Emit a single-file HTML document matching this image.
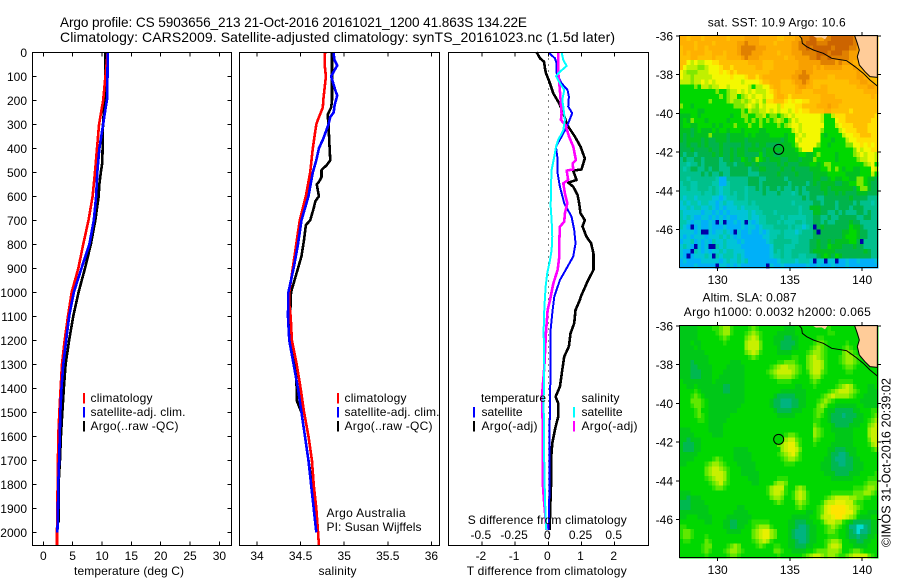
<!DOCTYPE html>
<html lang="en">
<head>
<meta charset="utf-8">
<title>Argo profile CS 5903656_213</title>
<style>
html,body{margin:0;padding:0;background:#fff;}
#chart{display:block;width:900px;height:580px;}
text{font-family:"Liberation Sans",Arial,sans-serif;fill:#000;}
</style>
</head>
<body>
<svg id="chart" xmlns="http://www.w3.org/2000/svg" width="900" height="580" viewBox="0 0 900 580"></svg>
<script>
// ---- profile data: temperature ----
const tempTicks = [0,5,10,15,20,25,30];
const depthTicks = [0,100,200,300,400,500,600,700,800,900,1000,1100,1200,1300,1400,1500,1600,1700,1800,1900,2000];
const tempClimDepth = [0,200,300,400,500,600,700,800,900,1000,1100,1200,1300,1400,1500,1600,1700,1800,1900,2000,2054];
const tempClim = [10.97,10.2,9.5,9.15,8.8,8.4,7.7,6.8,5.97,4.83,4.2,3.64,3.18,2.95,2.73,2.55,2.5,2.44,2.4,2.33,2.33];
const tempSatDepth = [0,190,250,300,400,500,600,700,800,900,1000,1100,1200,1300,1400,1500,1600,1700,1800,1900,2000];
const tempSat = [10.97,10.9,10.5,10.2,9.55,9.2,9,8.6,7.85,6.5,5.2,4.4,3.9,3.4,3.1,2.9,2.8,2.7,2.55,2.5,2.4];
const tempArgoDepth = [0,100,200,300,400,460,500,550,600,700,800,900,1000,1100,1200,1300,1400,1500,1600,1700,1800,1960];
const tempArgo = [10.6,10.57,10.45,10.17,10.1,10.05,9.8,9.55,9.43,8.86,8.1,7.1,6,5.1,4.4,3.8,3.5,3.24,3,2.84,2.6,2.6];

// ---- profile data: salinity ----
const salTicks = [34,34.5,35,35.5,36];
const salClimDepth = [0,50,100,200,230,280,300,400,500,600,700,800,900,1000,1050,1100,1200,1300,1400,1500,1600,1700,1800,1900,2000,2054];
const salClim = [34.78,34.775,34.79,34.76,34.755,34.70,34.68,34.64,34.61,34.56,34.49,34.45,34.41,34.37,34.37,34.386,34.40,34.455,34.5,34.54,34.59,34.63,34.65,34.68,34.70,34.71];
const salSatDepth = [0,30,55,100,130,160,180,220,250,270,300,360,400,450,500,600,700,800,900,1000,1100,1200,1300,1400,1500,1600,1700,1800,1900,2000];
const salSat = [34.88,34.885,34.92,34.85,34.875,34.9,34.92,34.89,34.88,34.84,34.82,34.76,34.71,34.68,34.64,34.59,34.51,34.47,34.42,34.36,34.355,34.37,34.42,34.47,34.51,34.55,34.59,34.62,34.65,34.68];
const salArgoDepth = [0,100,200,230,260,300,380,450,470,490,520,540,550,600,620,650,700,720,780,850,900,950,1000,1100,1200,1300,1400,1450,1500,1600,1700,1800,1850];
const salArgo = [34.86,34.86,34.86,34.85,34.81,34.82,34.83,34.84,34.80,34.74,34.74,34.71,34.685,34.71,34.67,34.65,34.61,34.56,34.54,34.51,34.47,34.43,34.39,34.38,34.39,34.44,34.455,34.455,34.51,34.55,34.59,34.63,34.64];

// ---- profile data: differences from climatology ----
const diffTTicks = [-2,-1,0,1,2];
const diffSTicks = [-0.5,-0.25,0,0.25,0.5];
const diffSTickLabels = ["-0.5","-0.25","0","0.25","0.5"];
const dTArgoDepth = [0,25,39,67,87,129,171,206,240,303,351,393,442,456,488,493,532,543,560,594,629,671,699,726,768,796,838,907,949,1018,1032,1074,1129,1171,1226,1268,1324,1393,1435,1463,1518,1560,1629,1699,1810,1893,1990];
const dTArgo = [-0.35,-0.25,-0.13,-0.10,-0.07,0.05,0.15,0.30,0.42,0.57,0.80,0.97,1.10,1.07,1.00,0.75,0.85,0.60,0.75,0.88,0.93,0.97,1.10,1.03,1.15,1.29,1.36,1.36,1.20,0.98,0.95,0.82,0.78,0.67,0.62,0.48,0.42,0.35,0.22,0.30,0.30,0.22,0.12,0.08,0.08,0.06,0.04];
const dTSatDepth = [0,25,46,87,129,157,185,226,254,275,310,351,393,435,504,560,629,685,740,796,851,893,949,1018,1087,1157,1310,1449,1588,1700,1850,1990];
const dTSat = [0,0.20,0.25,0.25,0.40,0.58,0.62,0.60,0.72,0.66,0.56,0.40,0.23,0.27,0.28,0.35,0.48,0.70,0.78,0.82,0.75,0.58,0.35,0.18,0.12,0.07,0.07,0.05,0.04,0.03,0.03,0.01];
const dSArgoDepth = [0,87,129,199,254,282,303,351,393,449,463,488,493,532,546,588,629,671,706,726,782,851,907,963,1018,1032,1074,1171,1310,1435,1588,1782,1865,1990];
const dSArgo = [0.075,0.075,0.083,0.093,0.10,0.095,0.13,0.156,0.188,0.208,0.183,0.188,0.138,0.15,0.113,0.125,0.143,0.125,0.12,0.088,0.083,0.083,0.07,0.038,0.018,0.013,-0.005,-0.018,-0.03,-0.048,-0.04,-0.043,-0.033,-0.013];
const dSSatDepth = [0,32,57,81,99,129,157,199,226,282,324,365,393,435,490,560,643,699,768,824,865,921,976,1067,1157,1240,1310,1449,1588,1727,1865,1990];
const dSSat = [0.10,0.113,0.138,0.088,0.058,0.088,0.12,0.105,0.113,0.125,0.113,0.075,0.058,0.045,0.025,0.02,0.018,0.025,0.03,0.025,0.013,-0.008,-0.02,-0.03,-0.035,-0.033,-0.03,-0.035,-0.033,-0.03,-0.025,-0.015];

// ---- map data ----
const lonTicks = [130,135,140];
const latTicks = [-36,-38,-40,-42,-44,-46];
const sstPalette = {a:"#0000a8",b:"#00b0f8",c:"#00c4d8",d:"#00c8ac",e:"#00c08c",f:"#00b44c",g:"#00c020",h:"#00d800",i:"#80e800",j:"#c0f000",k:"#f4f800",l:"#ffe000",m:"#ffc000",n:"#ffb000",o:"#f8a000",p:"#e08000",q:"#cc6400"};
const sstRows = [
"nnmnn nmnnn nnnmn nnnoo oonnn nnmmn nnoop pqqoo ppqqq qqqpp nnmmm",
"nnnnm nnnnm nnnnn noopo oonnn nmnnn noopp qqqpp pqqqq qqqpp nnmmm",
"mnnnm nnmnn nnnnn noppp pooon nnnnn noopp qpqqq qqpqq qqppo nnmmm",
"mnmnn nnmmn nnmnn noppp ooonn nnmnn nooop pppqq qpqqq ppooo nnmmm",
"mmmnn mmmmn mmmnn nnopo oonnn nnnnm nnooo oppqp pqppp ppooo nmmmm",
"mmkjk jjkkl lmmmm mmmmn nnnmm mnnnn nnnoo oooop pppop ooonn nmmmm",
"mkjjj iijkk klmml mmmmm mnnmm mnnnn nnnoo oonon ooooo nnnon nmmmm",
"kjiii jjjkk klklm lmmmm mmmmm nnnnn nnoop oonnn nnnnn nnnno nnmmm",
"kjjij jjjjk kkkkl kkklm mlmnn nnnnn noopp pnnnn nmmnn nnnno onmmm",
"jjjij jkjkj kkkkk kkjkk kklmm nnnmm mnoop onmmm mmmmm mmnnn oonnm",
"hhhhi hjjij jkkjk kkkkj hjjkk mnnmm mmnoo nnmmn nmmmm mmmmn nnoon",
"hhhhh hhhhh ihhij jkjkj kjjjk lmnmm mmnnm mmnnn nmmmm mmmmm mnnnn",
"hhhhh hhhhh hihij jhijk jkkjk kmnnm lmmmm mmmmn nnnmm mmmmm mmmnm",
"hhhhh hhhih hhhij iijij kjkil lmmml klkkl lmmmn nnnnn mmmmm mmmmm",
"ihhgh hhhhh hhhhh iiijk jikjk kkjlk kkllm mmmnn nonnm mmmmm mmmmm",
"hhhhh gghhh hhhhh hhihj iijjk jkjkk jklkl lmmmm nnmmm mmlmm mmmmm",
"ggghh ghhhh hhhhg hhiih hiijh iihij kjkkk kkkkj hhjll lmmmm mmmml",
"ghgih hhghh hhhgh hhhih ihihi hijih ikjkk kkkkj hhhkl lmmmm mmmll",
"ghhgg hhhhg hghhh ihhhi hhihh hhihi jkkjk kkkkk hhhjk lllmm mmlll",
"gggfg hgggh ghhgh hhghh hhggh hhhhh hjkjk kkkki hhhhj klllm mmlll",
"gfgfg gggig gggfg ggghg hgggg hhhhg hhjkj kkkkh ghhhh jkkll mmmll",
"gfggg gfgff gggfg gggfg ggggg gggfg hhkjk kkkkh hhghh hjkkl lllll",
"ffgff gfgff fgfff ffgff gfggf fffgg ghikk kkkih hghhh hiikk lklkl",
"fffgf fffgf fgffg fggfg gggfg ggggg gghik kkhhh hhhhh hhhik jkkll",
"feffe ffffg fgffg fggff ffhfg gffgg ggghh gghih hhhgh hhhij kjkkj",
"efeef fefff feffg ffhgf gihgf gggff gggfg ggihh hhhgh hhhhi jjkkj",
"eedee fefff feeff effgg fgfff ffgfg fffgg ghhgh iihhh hhhhh hijkh",
"edeff eefef feeef ffffe ffggf fffgf fgfff fgggh hihih ghhgg hhhkj",
"eeeee efefe efeef ffffe eefff ffgff ffgff ffggg ghhhh hgggg hhhjh",
"eedee eeeee dbbee eeeef ffeef ffffe fffff ffggf fghgg hhggi ihggf",
"deedd eeeed dbbde eeeef ffeff fffff effff efgfg gggff gghhi ihgff",
"ddedd eeede dcdde eeede efefe ffefe efefe ffffg gfggg gggfh iigff",
"ddddd dedde dcdde deede eeefe eefee edefe effff gffgf gfffg ggfff",
"dcddc ddddc cbcdd deede eeeee eeeee eeeef effee fffff ffgff ffeee",
"cdcdd cddcc bcdcc dddde deeee eeeee edeee eeffe fffef fffef eeede",
"ccdcd dccdc bcbcc cdcdd ddeee eeeee eeede egggf fffef ffeff feeee",
"dcccc cbccb cbcbc ccccd cddee edeee eeede eeggf feefe feeef fefee",
"dcdcb bccbc bcbcb bcccd ccdde eeede ddddd eeffe efeef ffffe effee",
"ddcbc cbbcb acabb cbcac bcdde eeded ddeed eeffe feeff ffgff eeeee",
"dcbab cbbcb bbcbb bbcbc cbcdd deeee deddc deafg fffff ffhgg feeee",
"ccccb caacb ccdcb acbbc bbcbc ddded ddcde eefaf fffff gghhg ffeee",
"cbcbc ccbcc cdcdc bcbbb bbbcc ddeed dddee eefff fffff ghhhg ffeee",
"bccdb cbcbd ccdcc cbcbb bbbbc deeee eddee effgf fgfgg gghhf aeeee",
"cdcba cbcaa dcdcc ccbbb bbbbb ceeed ddeee effgf fhggg fffgf feeee",
"cbbad cbcbc cdcdd cccbb bbbbb ceded deeee efggg gggff fffff fgfee",
"cbabc ccdca dcddd cdcbb bbbbb cdded deedd eeefg hgfhg fffff fffee",
"bcbbb bcccc cbcdc cdcdb bbbbb bbcdd ddcdd dcacc accab bcbbc bbbbc",
"bbbbc bbbbb accbc bcbbb bbbba cbbcb bbbbb cbbcb bbcbb bcbbb bbbbb"
];
const slaPalette = {"0":"#00dcd0","1":"#00b480","2":"#00b850","3":"#00c818","4":"#00d800","5":"#28e000","6":"#60e800","7":"#98ee00","8":"#c8f000","9":"#e8f000","x":"#ffe400"};
const slaRows = [
"33333 44445 56775 44445 65444 44443 33444 44444 45444 44444 44444",
"33333 44444 56775 44456 76544 44333 33444 44444 45544 44444 44444",
"33333 44444 45654 44467 87544 43332 23344 44455 44444 44444 44444",
"33343 34444 44544 44478 88644 43322 22344 44566 54444 45444 44444",
"33334 34444 44444 44478 88644 44322 23344 45676 54444 56544 44444",
"33333 33444 44444 44467 87544 44333 34444 56776 54444 67654 44444",
"33333 33344 44444 44445 65444 44444 45544 67876 54445 67765 44444",
"33323 33344 44443 33444 44444 44556 66544 67887 54445 67765 44444",
"33322 33334 44433 33344 44444 56788 77654 67887 54444 56654 44444",
"33322 23334 44333 33344 44445 67888 87654 57886 54444 45544 44444",
"33322 23334 43333 33344 44444 56777 76544 46775 44444 44444 44444",
"43333 33334 33333 33344 44444 44555 54444 45654 44445 55544 44444",
"44334 33333 33223 33344 44444 44444 44334 44544 44456 78754 44334",
"44445 43333 33223 33344 44444 44433 33333 44444 45678 88765 44333",
"44456 54333 33333 33344 44444 43222 22333 44445 67877 77654 43333",
"44466 65433 33333 33344 44444 32211 12233 44456 76544 44444 33333",
"44456 65433 33333 33444 44444 32211 12233 44467 64433 33334 43333",
"44445 64433 33333 34444 44444 43222 23334 44566 43322 22233 44455",
"44445 65433 33334 44444 44444 44333 33444 44565 43222 12223 34456",
"44444 55433 33344 44444 44444 44444 44444 44554 43222 22233 34567",
"44444 44433 33444 44444 44444 44444 44444 44654 44322 22333 44678",
"33344 44433 33444 44444 44444 44444 44444 44765 44333 33344 44788",
"33334 44443 33444 44444 44444 44445 66544 44765 44433 33344 44788",
"33233 34444 44444 44444 44444 44567 88654 44654 44433 33344 44688",
"32223 34444 44444 44444 44444 44678 99754 44544 44333 33344 44578",
"32223 34444 44444 33334 44444 44478 99864 44444 43322 23334 44456",
"33333 44444 44444 33333 44444 44567 89754 44444 43221 12334 44444",
"33334 44445 65444 33333 44444 44456 77654 44444 33211 12233 44444",
"33444 44567 76544 43333 34444 44445 55444 44443 33221 12233 34444",
"44444 44678 87654 44333 34444 44444 44444 44443 33222 22233 34444",
"44444 44678 88754 44333 33444 44444 44444 44444 33322 22333 44445",
"44444 44567 88754 44443 33444 44555 44444 44444 44333 33344 44555",
"44444 44456 78654 44444 33444 46776 44444 44444 44444 44444 45666",
"44444 44445 66544 44444 44445 78885 44676 44444 44444 44455 56776",
"33344 44444 44444 44444 44445 78875 45787 54444 44555 55566 67765",
"33233 34444 44444 44444 44444 67764 45787 54444 56788 88776 65544",
"22233 33444 44444 44444 44444 45654 44676 54445 78899 98865 54444",
"22233 33344 44444 43344 44444 44444 44565 44456 89xxx x9876 54444",
"33333 33344 44444 33334 44444 44444 44444 33456 89xxx x9975 44333",
"33444 33334 44433 33333 44444 44444 43333 34457 889xx 98764 33344",
"44444 44334 44332 23334 55555 44444 33222 33445 78877 54322 22233",
"55444 44444 44332 23344 56777 54444 33211 23344 56765 43110 01233",
"56654 44444 44433 33444 67899 76444 32111 23344 56654 43210 11233",
"56654 44544 44444 44444 67899 76444 32111 23344 45554 43221 22334",
"45544 44654 44444 44444 56787 54444 33211 23344 56776 44332 23344",
"44444 45664 44456 76444 45654 45544 33222 33444 57887 44433 33444",
"44444 45654 44567 76544 44444 46654 43333 44566 67776 44566 54444",
"44444 44544 44456 65444 44444 44544 44445 67887 67765 56788 88654"
];

// ---- axis functions ----
const xTemp = v => 43.3 + 5.87 * v;
const xSal = v => 257 + 87.2 * (v - 34);
const xDiffT = v => 548.3 + 33.2 * v;
const xDiffS = v => 548.3 + 132.8 * v;
const yDepth = d => 52.3 + 0.24 * d;
const xLon = v => 717.7 + 14.45 * (v - 130);
const yLat1 = v => 36 + 19.35 * (-36 - v);
const yLat2 = v => 326 + 19.35 * (-36 - v);

const svg = document.getElementById('chart');
const NS = 'http://www.w3.org/2000/svg';

function make(tag, attrs, parent) {
  const el = document.createElementNS(NS, tag);
  for (const k in attrs) el.setAttribute(k, attrs[k]);
  (parent || svg).appendChild(el);
  return el;
}
function label(str, x, y, size, anchor, name, len) {
  const el = make('text', {x: x, y: y, 'font-size': size, 'text-anchor': anchor});
  if (len) el.setAttribute('textLength', len);
  el.textContent = str;
  
  
  return el;
}
function frame(x, y, w, h, name) {
  const el = make('rect', {x: x, y: y, width: w, height: h, fill: 'none', stroke: '#000', 'stroke-width': 1, 'shape-rendering': 'crispEdges'});
  
  
  return el;
}
function tick(x1, y1, x2, y2, name) {
  const el = make('line', {x1: x1, y1: y1, x2: x2, y2: y2, stroke: '#000', 'stroke-width': 1, 'shape-rendering': 'crispEdges'});
  
  
  return el;
}
function series(values, depths, xf, color, width, name) {
  const pts = values.map((v, i) => xf(v).toFixed(2) + ',' + yDepth(depths[i]).toFixed(2)).join(' ');
  const el = make('polyline', {points: pts, fill: 'none', stroke: color, 'stroke-width': width, 'stroke-linejoin': 'round', 'shape-rendering': 'crispEdges'});
  
  
  return el;
}
function legendBar(x, yc, color, name) {
  const el = make('rect', {x: x, y: yc - 5, width: 2, height: 10.5, fill: color, 'shape-rendering': 'crispEdges'});
  
  
  return el;
}

// titles
label('Argo profile: CS 5903656_213 21-Oct-2016 20161021_1200 41.863S 134.22E', 60, 27, 13.6, 'start', 'figure-title-line-1', 467);
label('Climatology: CARS2009. Satellite-adjusted climatology: synTS_20161023.nc (1.5d later)', 60, 42, 14, 'start', 'figure-title-line-2', 555);

// ---- panel 1: temperature ----
series(tempArgo, tempArgoDepth, xTemp, '#000', 2.6, 'temperature-argo-line');
series(tempClim, tempClimDepth, xTemp, '#ff0000', 2.6, 'temperature-climatology-line');
series(tempSat, tempSatDepth, xTemp, '#0000ff', 2.6, 'temperature-satellite-line');
frame(32.5, 52.5, 199, 493, 'temperature-plot-frame');
depthTicks.forEach(d => {
  tick(32.5, yDepth(d), 36.5, yDepth(d), 'depth-tick-left');
  tick(227.5, yDepth(d), 231.5, yDepth(d), 'depth-tick-right');
  label(String(d), 27, yDepth(d) + 4.5, 12, 'end', 'depth-tick-label');
});
tempTicks.forEach(t => {
  tick(xTemp(t), 52.5, xTemp(t), 56.5, 'temperature-tick-top');
  tick(xTemp(t), 541.5, xTemp(t), 545.5, 'temperature-tick-bottom');
  label(String(t), xTemp(t), 560, 12, 'middle', 'temperature-tick-label');
});
label('temperature (deg C)', 129, 575, 12, 'middle', 'temperature-axis-title', 110);
legendBar(83, 398, '#ff0000', 'legend-swatch-climatology');
legendBar(83, 412, '#0000ff', 'legend-swatch-satellite');
legendBar(83, 426, '#000', 'legend-swatch-argo');
label('climatology', 90.5, 402, 12, 'start', 'legend-entry-climatology', 62);
label('satellite-adj. clim.', 90.5, 416, 12, 'start', 'legend-entry-satellite', 95);
label('Argo(..raw -QC)', 90.5, 430, 12, 'start', 'legend-entry-argo', 88);

// ---- panel 2: salinity ----
series(salArgo, salArgoDepth, xSal, '#000', 2.6, 'salinity-argo-line');
series(salClim, salClimDepth, xSal, '#ff0000', 2.6, 'salinity-climatology-line');
series(salSat, salSatDepth, xSal, '#0000ff', 2.6, 'salinity-satellite-line');
frame(239.5, 52.5, 200, 493, 'salinity-plot-frame');
salTicks.forEach(s => {
  tick(xSal(s), 52.5, xSal(s), 56.5, 'salinity-tick-top');
  tick(xSal(s), 541.5, xSal(s), 545.5, 'salinity-tick-bottom');
  label(String(s), xSal(s), 560, 12, 'middle', 'salinity-tick-label');
});
label('salinity', 337.5, 575, 12, 'middle', 'salinity-axis-title', 38);
legendBar(337, 398, '#ff0000', 'legend-swatch-climatology-2');
legendBar(337, 412, '#0000ff', 'legend-swatch-satellite-2');
legendBar(337, 426, '#000', 'legend-swatch-argo-2');
label('climatology', 344.5, 402, 12, 'start', 'legend-entry-climatology-2', 62);
label('satellite-adj. clim.', 344.5, 416, 12, 'start', 'legend-entry-satellite-2', 95);
label('Argo(..raw -QC)', 344.5, 430, 12, 'start', 'legend-entry-argo-2', 88);
label('Argo Australia', 326.5, 517, 12, 'start', 'credit-argo-australia', 79);
label('PI: Susan Wijffels', 326.5, 531, 12, 'start', 'credit-principal-investigator', 95);

// ---- panel 3: differences ----
const zeroLine = make('line', {x1: xDiffT(0), y1: 52.5, x2: xDiffT(0), y2: 545.5, stroke: '#000', 'stroke-width': 1, 'stroke-dasharray': '1 5', 'shape-rendering': 'crispEdges'});


series(dTArgo, dTArgoDepth, xDiffT, '#000', 2.6, 'temperature-difference-argo-line');
series(dTSat, dTSatDepth, xDiffT, '#0000ff', 2, 'temperature-difference-satellite-line');
series(dSArgo, dSArgoDepth, xDiffS, '#ff00ff', 2.6, 'salinity-difference-argo-line');
series(dSSat, dSSatDepth, xDiffS, '#00ffff', 2, 'salinity-difference-satellite-line');
frame(448.5, 52.5, 200, 493, 'difference-plot-frame');
diffTTicks.forEach(t => {
  tick(xDiffT(t), 52.5, xDiffT(t), 56.5, 'difference-tick-top');
  tick(xDiffT(t), 541.5, xDiffT(t), 545.5, 'difference-tick-bottom');
  label(String(t), xDiffT(t) - 1, 560, 12, 'middle', 'temperature-difference-tick-label');
});
diffSTicks.forEach((s, i) => {
  label(diffSTickLabels[i], xDiffS(s) - 1, 539, 12, 'middle', 'salinity-difference-tick-label');
});
label('S difference from climatology', 547.2, 524, 12, 'middle', 'salinity-difference-axis-title', 159);
label('T difference from climatology', 546.7, 575, 12, 'middle', 'temperature-difference-axis-title', 160);
label('temperature', 481, 402, 12, 'start', 'legend-heading-temperature', 65);
label('satellite', 481.5, 416, 12, 'start', 'legend-entry-temperature-satellite', 41);
label('Argo(-adj)', 481.5, 430, 12, 'start', 'legend-entry-temperature-argo', 56);
label('salinity', 581.5, 402, 12, 'start', 'legend-heading-salinity', 38);
label('satellite', 581.5, 416, 12, 'start', 'legend-entry-salinity-satellite', 41);
label('Argo(-adj)', 581.5, 430, 12, 'start', 'legend-entry-salinity-argo', 56);
legendBar(473, 412, '#0000ff', 'legend-swatch-temperature-satellite');
legendBar(473, 426, '#000', 'legend-swatch-temperature-argo');
legendBar(573, 412, '#00ffff', 'legend-swatch-salinity-satellite');
legendBar(573, 426, '#ff00ff', 'legend-swatch-salinity-argo');

// ---- maps ----
const LON0 = 127.35;
const CELL = 0.25;
function drawMap(rows, palette, yLat, cellName) {
  const g = make('g', {'shape-rendering': 'crispEdges'});
  
  
  rows.forEach((raw, r) => {
    const row = raw.replace(/ /g, '');
    for (let c = 0; c < row.length; c++) {
      const xa = xLon(LON0 + c * CELL), xb = xLon(LON0 + (c + 1) * CELL);
      const ya = yLat(-36 - r * CELL), yb = yLat(-36 - (r + 1) * CELL);
      const cell = make('rect', {x: xa.toFixed(2), y: ya.toFixed(2), width: (xb - xa + 0.4).toFixed(2), height: (yb - ya + 0.4).toFixed(2), fill: palette[row[c]]}, g);
      
      
    }
  });
}
function drawCoast(dy, suffix, circleY, circleFill) {
  const g = make('g', {transform: 'translate(650,' + dy + ') scale(0.33333)'});
  
  
  const land1 = make('path', {d: 'M614 77 L622 100 L628 120 L622 140 L628 165 L645 185 L660 200 L682 202 L682 77 Z', fill: '#ffcc99', stroke: '#000', 'stroke-width': 3}, g);
  
  
  const land2 = make('path', {d: 'M488 77 L498 83 L515 82 L525 88 L533 77 Z', fill: '#ffcc99'}, g);
  
  
  const coast = make('path', {d: 'M448 77 L455 85 L457 100 L470 110 L490 120 L505 125 L520 130 L545 145 L590 152 L615 170 L640 190 L660 210 L682 228', fill: 'none', stroke: '#000', 'stroke-width': 3}, g);
  
  
  const marker = make('circle', {cx: xLon(134.22), cy: circleY, r: 5, fill: circleFill, stroke: '#000', 'stroke-width': 1});
  
  
}
function mapAxes(top, bottom, yLat, xLabelY, suffix) {
  frame(679.5, top, 198, bottom - top, 'map-frame-' + suffix);
  latTicks.forEach(l => {
    tick(676, yLat(l), 679.5, yLat(l), 'latitude-tick-left');
    tick(877.5, yLat(l), 881, yLat(l), 'latitude-tick-right');
    label(String(l), 673, yLat(l) + 4.5, 12, 'end', 'latitude-tick-label');
  });
  lonTicks.forEach(l => {
    tick(xLon(l), top - 3.5, xLon(l), top, 'longitude-tick-top');
    tick(xLon(l), bottom, xLon(l), bottom + 3.5, 'longitude-tick-bottom');
    label(String(l), xLon(l), xLabelY, 12, 'middle', 'longitude-tick-label');
  });
}
drawMap(sstRows, sstPalette, yLat1, 'sst-cell');
drawCoast(10, 'sst', yLat1(-41.863) - 0.1, 'none');
mapAxes(35.5, 267.5, yLat1, 284, 'sst');
label('sat. SST: 10.9 Argo: 10.6', 776.7, 26.5, 12, 'middle', 'sst-map-title', 138);

drawMap(slaRows, slaPalette, yLat2, 'sla-cell');
drawCoast(300, 'sla', yLat2(-41.863) - 0.1, '#00d000');
mapAxes(325.5, 557.5, yLat2, 574, 'sla');
label('Altim. SLA: 0.087', 749.5, 301.5, 12, 'middle', 'sla-map-title', 94);
label('Argo h1000: 0.0032 h2000: 0.065', 777.3, 316, 12, 'middle', 'argo-height-title', 187);

const stamp = label('©IMOS 31-Oct-2016 20:39:02', 0, 0, 12.5, 'middle', 'imos-timestamp', 169);
stamp.setAttribute('transform', 'translate(890.5,462.5) rotate(-90)');
</script>
</body>
</html>
